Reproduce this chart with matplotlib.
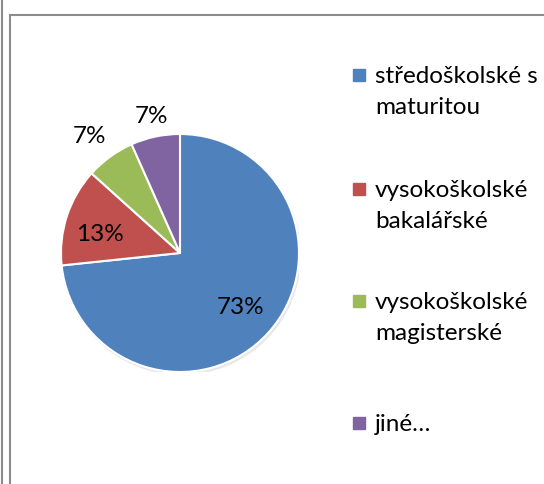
import matplotlib.pyplot as plt
from matplotlib.patches import Rectangle, Circle
from matplotlib.lines import Line2D
import numpy as np

plt.rcParams['font.family'] = ['Lato', 'DejaVu Sans']

# data
categories = ["středoškolské s\nmaturitou", "vysokoškolské\nbakalářské",
              "vysokoškolské\nmagisterské", "jiné…"]
counts = [11, 2, 1, 1]
colors = ["#4F81BD", "#C0504D", "#9BBB59", "#8064A2"]

W, H = 544, 484
fig = plt.figure(figsize=(W / 100, H / 100), dpi=100)

def px(x, y):
    return x / W, 1 - y / H

# frame lines (screenshot border)
gray = "#8c8c8c"
fig.add_artist(Line2D([1.5 / W, 1.5 / W], [0, 1], color=gray, lw=1.5))
fig.add_artist(Line2D([10 / W, 10 / W], [0, 1 - 15 / H], color=gray, lw=1.5))
fig.add_artist(Line2D([10 / W, 543 / W], [1 - 15 / H, 1 - 15 / H], color=gray, lw=1.5))

# pie
cx, cy, r = 180, 253, 119
ax = fig.add_axes([(cx - r) / W, (H - cy - r) / H, 2 * r / W, 2 * r / H])
ax.add_patch(Circle((0.012, -0.02), 1.0, color="#e8e8e8", zorder=0))
wedges, _ = ax.pie(counts, colors=colors, startangle=90, counterclock=False,
                   wedgeprops=dict(edgecolor="white", linewidth=1.5))
ax.set_xlim(-1, 1)
ax.set_ylim(-1, 1)
ax.axis("off")

total = sum(counts)
dist = [0.68, 0.69, 1.24, 1.17]
shift = [0, 5, 2, 0]
for w, c, d, s in zip(wedges, counts, dist, shift):
    ang = np.deg2rad((w.theta1 + w.theta2) / 2 + s)
    ax.text(d * np.cos(ang), d * np.sin(ang), f"{100 * c / total:.0f}%",
            ha="center", va="center", fontsize=17.5, color="black", clip_on=False)

# legend
baselines = [83, 197, 309, 431]
for lab, col, b in zip(categories, colors, baselines):
    x0, y0 = px(353, b - 2)
    fig.add_artist(Rectangle((x0, y0), 12 / W, 12 / H, color=col, transform=fig.transFigure))
    for i, line in enumerate(lab.split("\n")):
        tx, ty = px(375, b + 31 * i)
        fig.text(tx, ty, line, ha="left", va="baseline", fontsize=17.5)

plt.savefig("out.png", dpi=100)
